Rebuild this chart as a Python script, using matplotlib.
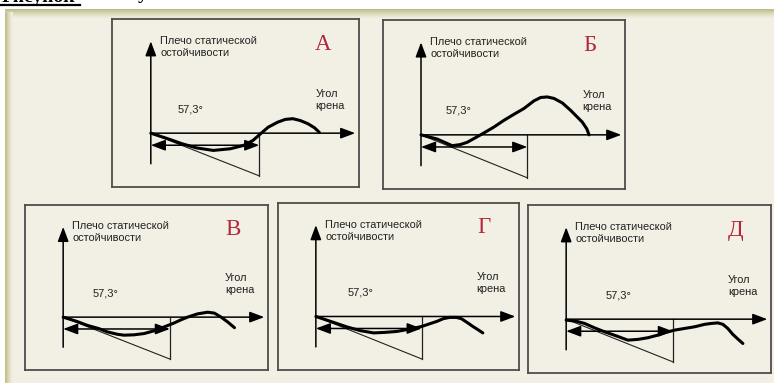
import numpy as np
import matplotlib.pyplot as plt

W, H = 774, 383

# box letters and pixel frames (left, top, right, bottom)
letters = ['А', 'Б', 'В', 'Г', 'Д']
frames = [(112, 19, 359, 187), (383, 20, 625, 189),
          (25, 205, 268, 370), (278, 203, 519, 370), (528, 205, 771, 373)]

# heel angle (deg) / static stability lever
angle_a = [0, 9, 16.5, 24, 33, 42, 49, 54, 58, 62, 67, 71, 75, 79, 83, 86.5, 89]
lever_a = [0, -3, -5.7, -7.9, -9.3, -8.4, -6.6, -3.9, -0.3, 3.2, 5.9, 7.4, 7.8, 6.8, 5.1, 2.9, 0.5]

angle_b = [0, 8.6, 16.8, 21.2, 24.9, 33, 39.2, 44.6, 50.1, 55.5, 60.9, 64.5, 68.1, 71.7, 76.2, 80.7, 84.3, 87, 89.4, 90.6]
lever_b = [0, -2.2, -5.8, -5.2, -4.0, 0.5, 4.1, 7.7, 11.0, 14.1, 18.2, 20.0, 20.3, 19.5, 17.1, 13.1, 9.5, 6.8, 3.2, 0]

angle_v = [0, 7.5, 12.9, 19.2, 23.7, 29.1, 32.7, 38.1, 43.5, 48.8, 54.2, 59.6, 63.2, 66.8, 72.2, 77.6, 81.2, 84.8, 88.4, 92]
lever_v = [0, -2.4, -4.5, -6.3, -8.1, -9.4, -9.9, -9.7, -9.0, -7.5, -5.4, -3.2, -1.5, 0, 1.8, 2.7, 2.2, 0, -2.7, -5.8]

angle_g = [0, 8.1, 17, 24.2, 31.3, 37.6, 43.9, 51, 57.3, 61.8, 65.4, 69, 72.5, 76.1, 78.8, 82.3, 85, 87.7, 90.4]
lever_g = [0, -2.7, -5.7, -7.7, -8.9, -8.6, -8.1, -6.8, -5.4, -3.9, -2.7, -1.2, -0.5, -0.5, -1.2, -3.5, -5.4, -7.1, -8.9]

angle_d = [0, 5.4, 9.9, 15.3, 20.6, 26.9, 33.1, 38.5, 43.9, 49.2, 53.7, 58.2, 63.6, 69, 74.3, 77.9, 81.5, 84.2, 86.8, 89.5, 92.2, 94.9]
lever_d = [-0.5, -1.1, -2.3, -4.7, -6.8, -9.0, -11.3, -10.9, -10.0, -8.6, -7.1, -5.9, -5.0, -4.1, -2.8, -2.3, -2.0, -2.8, -5.0, -8.2, -10.7, -13.1]

curves = [(angle_a, lever_a), (angle_b, lever_b), (angle_v, lever_v),
          (angle_g, lever_g), (angle_d, lever_d)]
label_x = [21, 20, 23, 24, 28]

RAD = 57.3          # one radian, degrees
TAN_END = -23       # lever where the initial tangent meets the 57.3 deg line

bg = '#f2efe4'
sans = ['Liberation Sans Narrow', 'Liberation Sans', 'DejaVu Sans']

fig = plt.figure(figsize=(W / 100, H / 100), dpi=100)

# page background, olive edge and cut-off caption
back = fig.add_axes([0, 0, 1, 1])
back.set_xlim(0, W)
back.set_ylim(H, 0)
back.axis('off')
back.add_patch(plt.Rectangle((5, 9), W, H, color=bg, lw=0))
top = np.linspace(1, 0, 50)[:, None] ** 1.4
olive = np.array([0.73, 0.73, 0.50])
beige = np.array([0.95, 0.937, 0.894])
img = beige + (olive - beige) * top[..., None]
back.imshow(np.repeat(img, 10, axis=1), extent=(5, W, 19, 9), aspect='auto', zorder=1)
left = np.linspace(1, 0, 50)[None, :] ** 1.4
img = beige + (olive - beige) * left[..., None]
back.imshow(np.repeat(img, 10, axis=0), extent=(5, 13, H, 12), aspect='auto', zorder=1)
back.plot([0, 80], [5, 5], color='k', lw=1.6)
back.text(2, 2.2, 'Рисунок', fontsize=14, fontweight='bold', family='Liberation Serif', va='baseline')
back.text(138, -1, 'у', fontsize=14, fontweight='bold', family='Liberation Serif', va='baseline')

for letter, (x0, y0, x1, y1), (ang, lev), lx in zip(letters, frames, curves, label_x):
    ax = fig.add_axes([x0 / W, 1 - y1 / H, (x1 - x0) / W, (y1 - y0) / H])
    ax.set_facecolor(bg)
    ax.set_xlim(-20.5, 110)
    ax.set_ylim(-29, 61.5)
    ax.set_xticks([])
    ax.set_yticks([])
    for s in ax.spines.values():
        s.set_color('#4d4d4d')
        s.set_linewidth(1.3)

    arrow = dict(arrowstyle='-|>,head_length=0.8,head_width=0.3', color='k',
                 lw=1.1, mutation_scale=11, shrinkA=0, shrinkB=0)
    ax.annotate('', xy=(0, 49.5), xytext=(0, -16.5), arrowprops=arrow)
    ax.annotate('', xy=(108, 0), xytext=(0, 0), arrowprops=arrow)
    both = dict(arrow, arrowstyle='<|-|>,head_length=0.8,head_width=0.3')
    ax.annotate('', xy=(RAD, -6.5), xytext=(0, -6.5), arrowprops=both)

    ax.plot([0, RAD], [0, TAN_END], color='#222222', lw=0.8)
    ax.plot([RAD, RAD], [0, TAN_END], color='#222222', lw=0.9)
    ax.plot(ang, lev, color='k', lw=2.2, solid_capstyle='round', solid_joinstyle='round')

    ax.text(5, 46.5, 'Плечо статической\nостойчивости', family=sans, fontsize=7.9,
            color='#222222', va='center', ha='left', linespacing=1.25)
    ax.text(lx, 13, '57,3°', family=sans, fontsize=8, color='#222222',
            va='center', ha='center')
    ax.text(87, 18, 'Угол\nкрена', family=sans, fontsize=7.9, color='#222222',
            va='center', ha='left', linespacing=1.25)
    ax.text(91, 48, letter, family='Liberation Serif', fontsize=16.5,
            color='#b0283a', va='center', ha='center')

fig.savefig('out.png', dpi=100)
